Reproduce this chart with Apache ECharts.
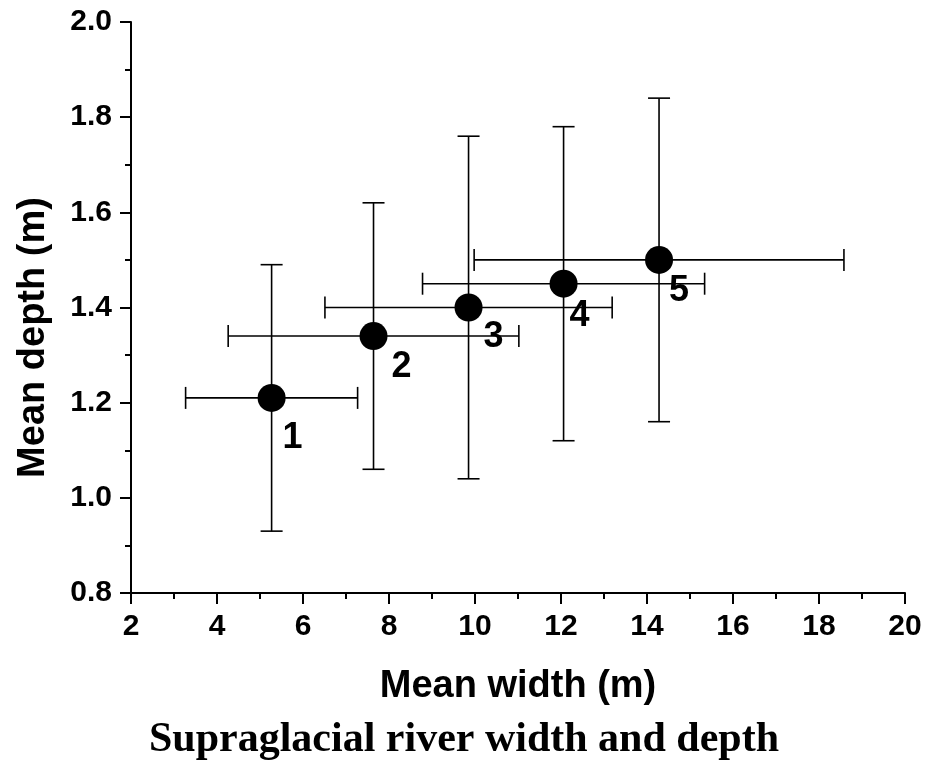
<!DOCTYPE html>
<html>
<head>
<meta charset="utf-8">
<script src="https://cdn.jsdelivr.net/npm/echarts@6/dist/echarts.min.js"></script>
<style>
  html, body { margin: 0; padding: 0; background: #fff; }
  #main { width: 928px; height: 769px; }
</style>
</head>
<body>
<div id="main"></div>
<script>
// groups 1..5 : mean width / depth with their standard deviations
const ids = ['1', '2', '3', '4', '5'];
const meanWidth = [5.27, 7.64, 9.85, 12.06, 14.28];
const widthErr = [2.0, 3.38, 3.34, 3.28, 4.3];
const meanDepth = [1.21, 1.34, 1.40, 1.45, 1.50];
const depthErr = [0.28, 0.28, 0.36, 0.33, 0.34];

const xTicks = { min: 2, max: 20, interval: 2 };
const yTicks = { min: 0.8, max: 2.0, interval: 0.2 };

// where each number sits next to its dot (px)
const labelOffsets = [[21, 40], [28, 31], [25, 30], [16, 32], [20, 31]];

const chart = echarts.init(document.getElementById('main'));

const points = ids.map((id, i) => [meanWidth[i], meanDepth[i], widthErr[i], depthErr[i], id]);

const CAP = 11;

function renderErrorBar(params, api) {
    const x = api.value(0), y = api.value(1);
    const xe = api.value(2), ye = api.value(3);
    const left = api.coord([x - xe, y]);
    const right = api.coord([x + xe, y]);
    const top = api.coord([x, y + ye]);
    const bottom = api.coord([x, y - ye]);
    const style = { stroke: '#000', lineWidth: 1.6 };
    const line = (x1, y1, x2, y2) => ({ type: 'line', shape: { x1, y1, x2, y2 }, style });
    return {
        type: 'group',
        children: [
            line(left[0], left[1], right[0], right[1]),
            line(left[0], left[1] - CAP, left[0], left[1] + CAP),
            line(right[0], right[1] - CAP, right[0], right[1] + CAP),
            line(top[0], top[1], bottom[0], bottom[1]),
            line(top[0] - CAP, top[1], top[0] + CAP, top[1]),
            line(bottom[0] - CAP, bottom[1], bottom[0] + CAP, bottom[1])
        ]
    };
}

const axisCommon = {
    type: 'value',
    nameLocation: 'middle',
    nameTextStyle: { fontFamily: 'Liberation Sans', fontWeight: 'bold', fontSize: 38, color: '#000' },
    axisLine: { show: true, onZero: false, lineStyle: { color: '#000', width: 2 } },
    axisTick: { show: true, inside: false, length: 11, lineStyle: { color: '#000', width: 2 } },
    minorTick: { show: true, splitNumber: 2, length: 6, lineStyle: { color: '#000', width: 2 } },
    splitLine: { show: false },
    axisLabel: { fontFamily: 'Liberation Sans', fontWeight: 'bold', fontSize: 30, color: '#000', margin: 19 }
};

chart.setOption({
    backgroundColor: '#fff',
    animation: false,
    title: {
        text: 'Supraglacial river width and depth',
        left: 'center',
        top: 714,
        textStyle: { fontFamily: 'Liberation Serif', fontWeight: 'bold', fontSize: 42, color: '#000' }
    },
    grid: { left: 131, right: 23, top: 22, bottom: 176 },
    xAxis: {
        ...axisCommon,
        name: 'Mean width (m)',
        nameGap: 75,
        min: xTicks.min, max: xTicks.max, interval: xTicks.interval
    },
    yAxis: {
        ...axisCommon,
        name: 'Mean depth (m)',
        nameGap: 78,
        nameTextStyle: { ...axisCommon.nameTextStyle, padding: [0, 60, 0, 0] },
        min: yTicks.min, max: yTicks.max, interval: yTicks.interval,
        axisLabel: { ...axisCommon.axisLabel, formatter: v => v.toFixed(1) }
    },
    series: [
        {
            type: 'custom',
            renderItem: renderErrorBar,
            data: points,
            z: 1
        },
        {
            type: 'scatter',
            data: points.map((p, i) => ({
                value: p,
                label: { offset: labelOffsets[i] }
            })),
            symbol: 'circle',
            symbolSize: 28,
            itemStyle: { color: '#000', opacity: 1 },
            label: {
                show: true,
                position: 'inside',
                formatter: p => p.value[4],
                fontFamily: 'Liberation Sans',
                fontWeight: 'bold',
                fontSize: 36,
                color: '#000'
            },
            emphasis: { disabled: true },
            z: 3
        }
    ]
});
</script>
</body>
</html>
